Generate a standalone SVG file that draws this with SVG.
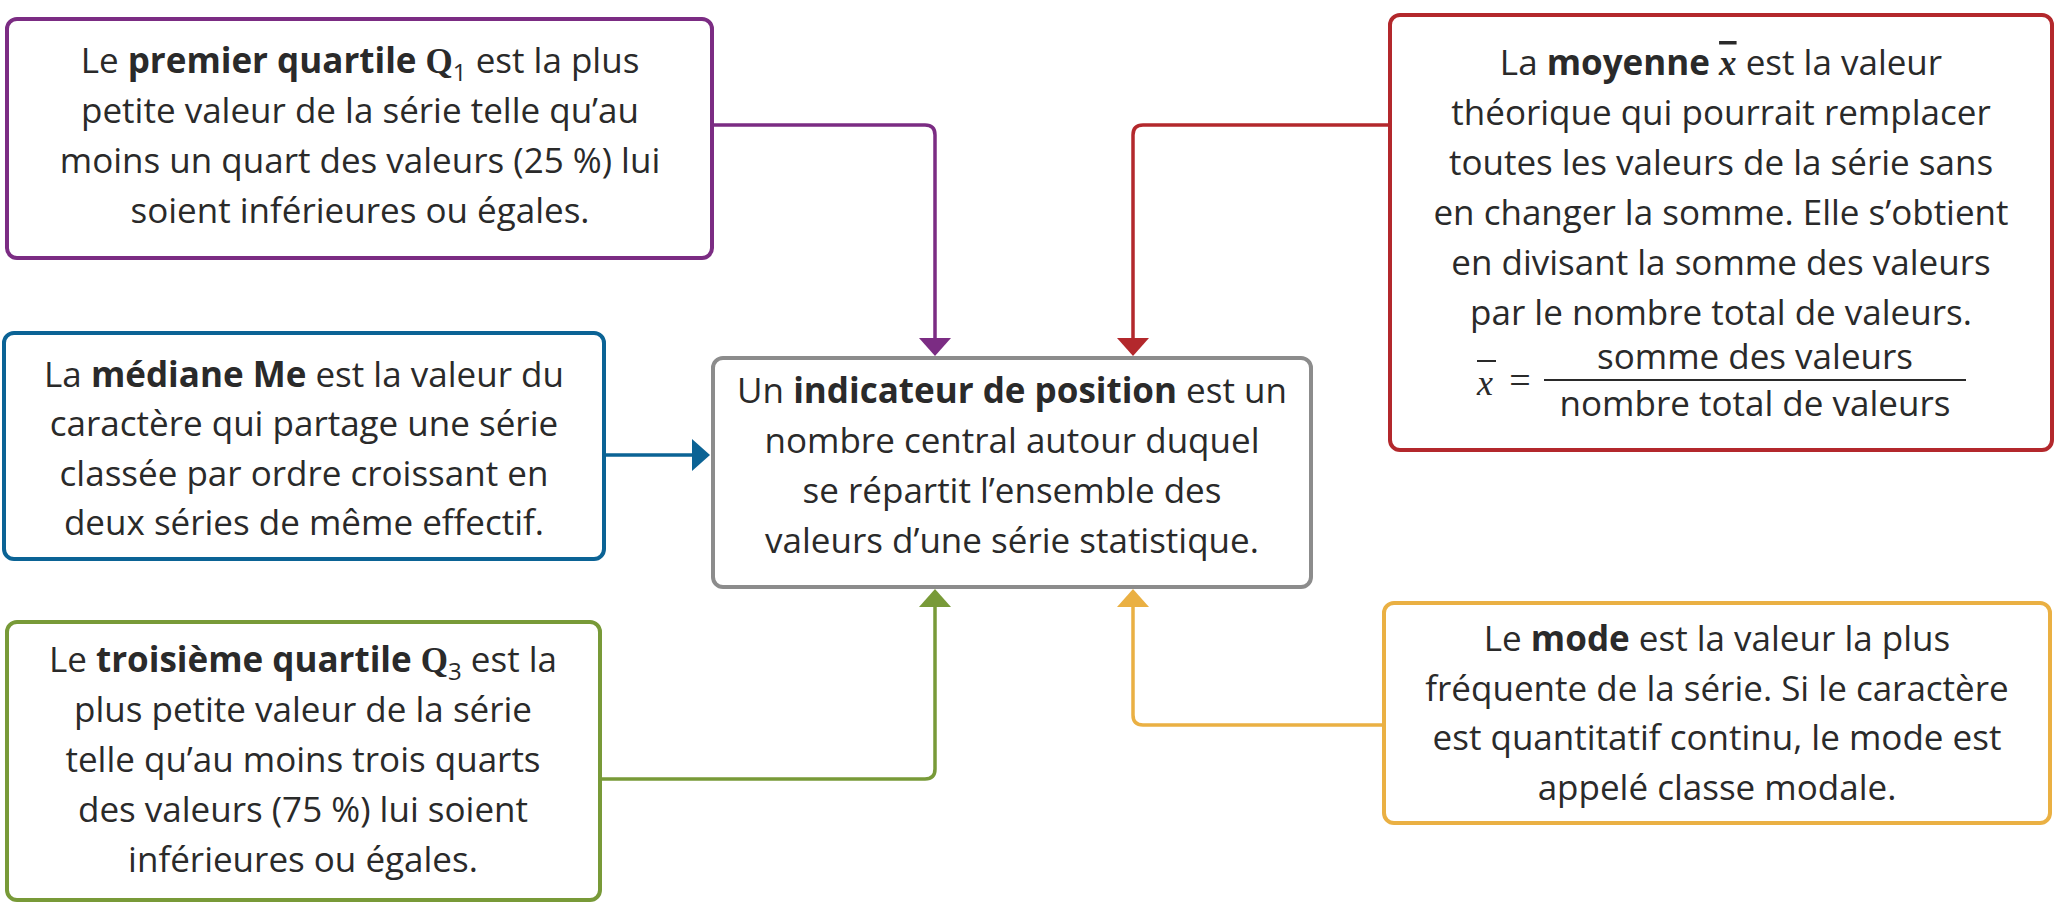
<svg xmlns="http://www.w3.org/2000/svg" width="2057" height="904" viewBox="0 0 2057 904">
<style>
.box{fill:#fff;stroke-width:4}
.t{font-family:"Open Sans","Noto Sans",sans-serif;font-size:35px;fill:#2a2a2a;text-anchor:middle}
.b{font-weight:700}
.m{font-family:"Liberation Serif","DejaVu Serif",serif}
.sub{font-size:24px}
.con{fill:none;stroke-width:3.5}
</style>
<rect width="2057" height="904" fill="#fff"/>
<g id="connectors">
<path class="con" stroke="#7b2c83" d="M712,125 H925 Q935,125 935,135 V340"/>
<polygon fill="#7b2c83" points="919,338 951,338 935,356"/>
<path class="con" stroke="#b3282c" d="M1390,125 H1143 Q1133,125 1133,135 V340"/>
<polygon fill="#b3282c" points="1117,338 1149,338 1133,356"/>
<path class="con" stroke="#0b6395" d="M604,455 H694"/>
<polygon fill="#0b6395" points="692,439 692,471 710,455"/>
<path class="con" stroke="#789a38" d="M600,779 H925 Q935,779 935,769 V605"/>
<polygon fill="#789a38" points="919,607 951,607 935,589"/>
<path class="con" stroke="#eab043" d="M1384,725 H1143 Q1133,725 1133,715 V605"/>
<polygon fill="#eab043" points="1117,607 1149,607 1133,589"/>
</g>
<g id="q1">
<rect class="box" stroke="#7b2c83" x="7" y="19" width="705" height="239" rx="10"/>
<text class="t" x="360" y="73">Le <tspan class="b">premier quartile </tspan><tspan class="b m">Q</tspan><tspan class="sub" dy="8">1</tspan><tspan dy="-8"> est la plus</tspan></text>
<text class="t" x="360" y="123">petite valeur de la série telle qu’au</text>
<text class="t" x="360" y="173">moins un quart des valeurs (25 %) lui</text>
<text class="t" x="360" y="223">soient inférieures ou égales.</text>
</g>
<g id="mediane">
<rect class="box" stroke="#0b6395" x="4" y="333" width="600" height="226" rx="10"/>
<text class="t" x="304" y="387">La <tspan class="b">médiane Me</tspan> est la valeur du</text>
<text class="t" x="304" y="436">caractère qui partage une série</text>
<text class="t" x="304" y="486">classée par ordre croissant en</text>
<text class="t" x="304" y="535">deux séries de même effectif.</text>
</g>
<g id="q3">
<rect class="box" stroke="#789a38" x="7" y="622" width="593" height="278" rx="10"/>
<text class="t" x="303" y="672">Le <tspan class="b">troisième quartile </tspan><tspan class="b m">Q</tspan><tspan class="sub" dy="8">3</tspan><tspan dy="-8"> est la</tspan></text>
<text class="t" x="303" y="722">plus petite valeur de la série</text>
<text class="t" x="303" y="772">telle qu’au moins trois quarts</text>
<text class="t" x="303" y="822">des valeurs (75 %) lui soient</text>
<text class="t" x="303" y="872">inférieures ou égales.</text>
</g>
<g id="indicateur">
<rect class="box" stroke="#8c8c8c" x="713" y="358" width="598" height="229" rx="10"/>
<text class="t" x="1012" y="403">Un <tspan class="b">indicateur de position</tspan> est un</text>
<text class="t" x="1012" y="453">nombre central autour duquel</text>
<text class="t" x="1012" y="503">se répartit l’ensemble des</text>
<text class="t" x="1012" y="553">valeurs d’une série statistique.</text>
</g>
<g id="moyenne">
<rect class="box" stroke="#b3282c" x="1390" y="15" width="662" height="435" rx="10"/>
<text class="t" x="1721" y="75">La <tspan class="b">moyenne</tspan> <tspan class="b m" font-style="italic" text-decoration="overline">x</tspan> est la valeur</text>
<text class="t" x="1721" y="125">théorique qui pourrait remplacer</text>
<text class="t" x="1721" y="175">toutes les valeurs de la série sans</text>
<text class="t" x="1721" y="225">en changer la somme. Elle s’obtient</text>
<text class="t" x="1721" y="275">en divisant la somme des valeurs</text>
<text class="t" x="1721" y="325">par le nombre total de valeurs.</text>
<text class="m" x="1477" y="395" font-size="36" font-style="italic" fill="#2a2a2a">x</text>
<line x1="1477" y1="361" x2="1496" y2="361" stroke="#2a2a2a" stroke-width="2"/>
<text class="m" x="1520" y="393" font-size="38" fill="#2a2a2a" text-anchor="middle">=</text>
<line x1="1544" y1="380" x2="1966" y2="380" stroke="#2a2a2a" stroke-width="2"/>
<text class="t" x="1755" y="369" font-size="33">somme des valeurs</text>
<text class="t" x="1755" y="416" font-size="33">nombre total de valeurs</text>
</g>
<g id="mode">
<rect class="box" stroke="#eab043" x="1384" y="603" width="666" height="220" rx="10"/>
<text class="t" x="1717" y="651">Le <tspan class="b">mode</tspan> est la valeur la plus</text>
<text class="t" x="1717" y="701">fréquente de la série. Si le caractère</text>
<text class="t" x="1717" y="750">est quantitatif continu, le mode est</text>
<text class="t" x="1717" y="800">appelé classe modale.</text>
</g>
</svg>
